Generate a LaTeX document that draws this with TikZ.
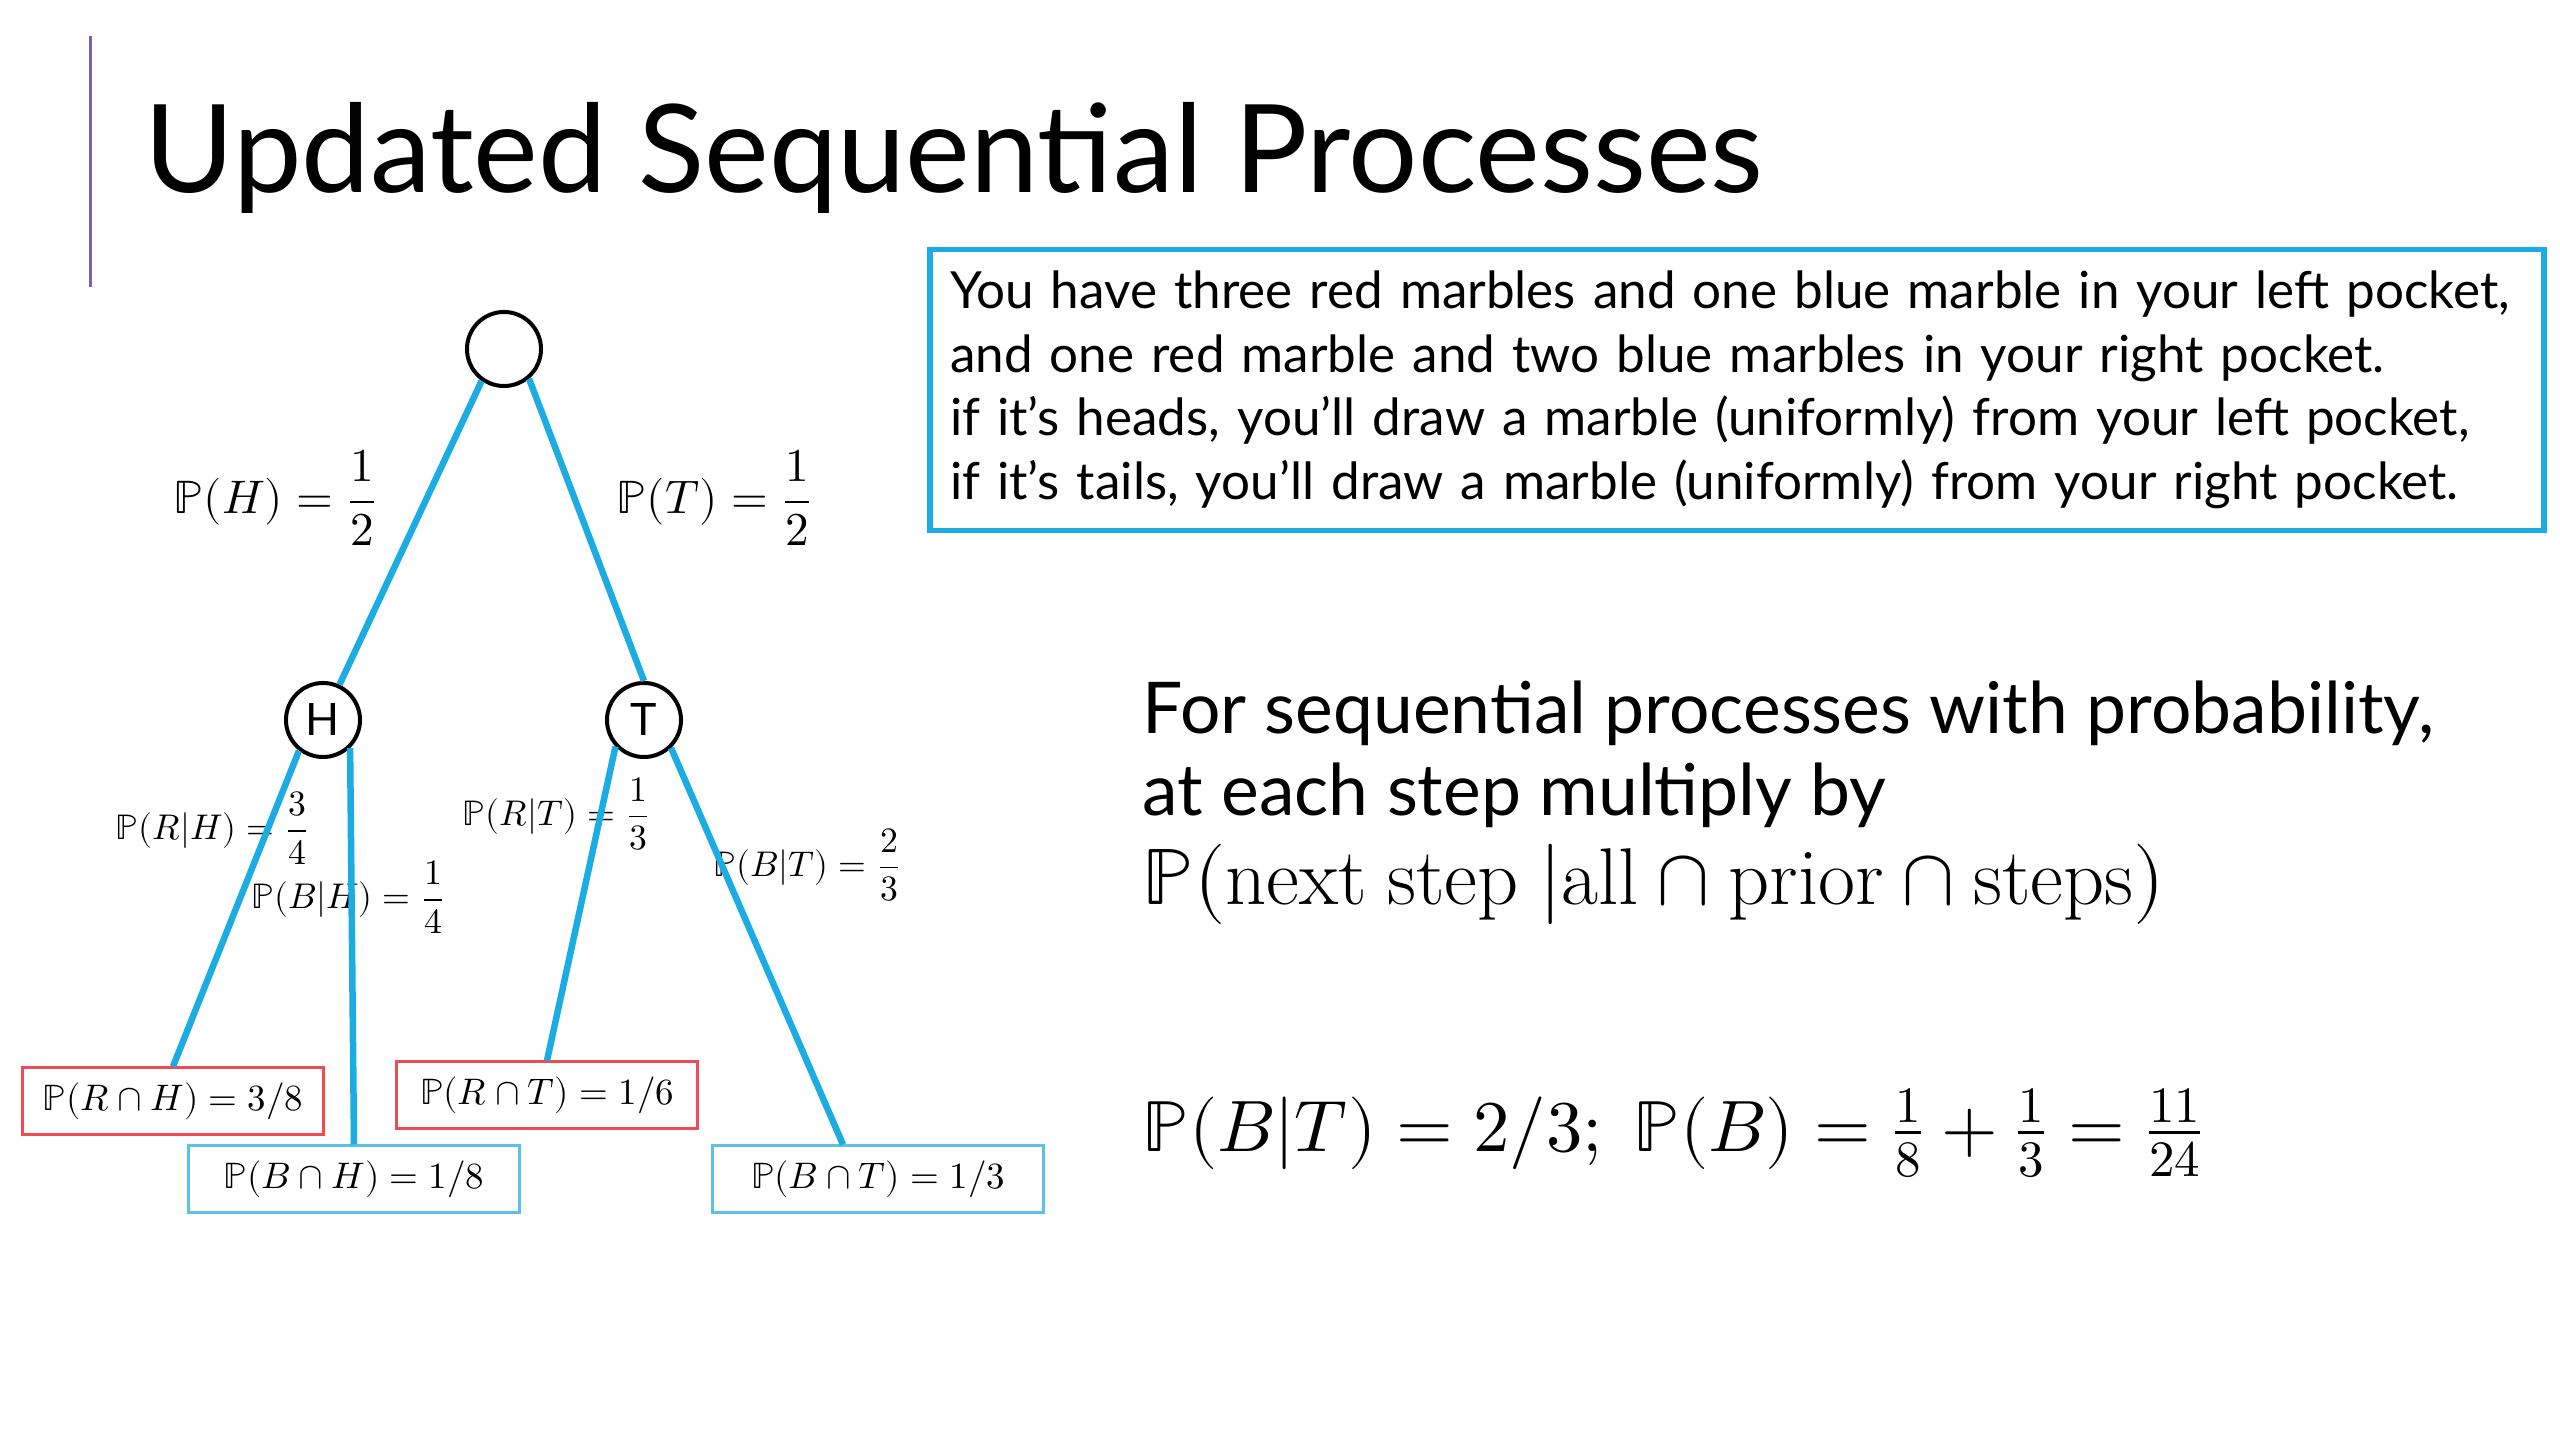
\documentclass[tikz,border=0pt]{standalone}
\usepackage{amsmath}
\usepackage{unicode-math}
\setsansfont{Lato}
\renewcommand{\familydefault}{\sfdefault}
\usepackage{tikz}
\definecolor{ionblue}{HTML}{1AACE3}
\definecolor{boxred}{HTML}{EE4B55}
\definecolor{boxblue}{HTML}{5BC0EB}
\definecolor{barpurple}{HTML}{7B62B0}

\begin{document}
\begin{tikzpicture}[x=0.01cm,y=-0.01cm,
    coin/.style={draw,circle,line width=0.04cm,minimum size=0.74cm,inner sep=0pt,font=\fontsize{12.7}{14}\selectfont},
    branch/.style={ionblue,line width=0.065cm},
    redbox/.style={draw=boxred,line width=0.03cm,minimum width=3cm,minimum height=0.66cm,font=\fontsize{10.5}{13}\selectfont},
    bluebox/.style={draw=boxblue,line width=0.03cm,minimum width=3.3cm,minimum height=0.66cm,font=\fontsize{10.5}{13}\selectfont},
    prob/.style={anchor=west,inner sep=0pt,font=\fontsize{13.4}{15}\selectfont},
    condprob/.style={anchor=west,inner sep=0pt,font=\fontsize{10.15}{12}\selectfont}]
  \useasboundingbox (0,0) rectangle (2560,1440);
  \draw[barpurple,line width=0.03cm] (90,36) -- (90,287);
  \node[anchor=base west,inner sep=0pt,font=\fontsize{34.8}{40}\selectfont] (title) at (144,193) {Updated Sequential Processes};

  % coin toss tree
  \node[coin] (root) at (504,349) {};
  \node[coin] (H) at (323,720) {H};
  \node[coin] (T) at (644,720) {T};
  \node[redbox] (rh) at (173,1101) {$\mathbb{P}(R\cap H)=3/8$};
  \node[bluebox] (bh) at (354,1179) {$\mathbb{P}(B\cap H)=1/8$};
  \node[redbox] (rt) at (547,1095) {$\mathbb{P}(R\cap T)=1/6$};
  \node[bluebox] (bt) at (878,1179) {$\mathbb{P}(B\cap T)=1/3$};
  \node[prob] (lh) at (173,498) {$\displaystyle\mathbb{P}(H)=\frac{1}{2}$};
  \node[prob] (lt) at (616,498) {$\displaystyle\mathbb{P}(T)=\frac{1}{2}$};
  \node[condprob] (lrh) at (115,828) {$\displaystyle\mathbb{P}(R|H)=\frac{3}{4}$};
  \node[condprob] (lbh) at (251,897) {$\displaystyle\mathbb{P}(B|H)=\frac{1}{4}$};
  \node[condprob] (lrt) at (462,814) {$\displaystyle\mathbb{P}(R|T)=\frac{1}{3}$};
  \node[condprob] (lbt) at (713,865) {$\displaystyle\mathbb{P}(B|T)=\frac{2}{3}$};
  \draw[branch] (root.-125) -- (H.65);
  \draw[branch] (root.-50) -- (T.north);
  \draw[branch] (H.-128) -- (rh.north);
  \draw[branch] (H.-46) -- (bh.north);
  \draw[branch] (T.-137) -- (rt.north);
  \draw[branch] (T.-46) -- ([xshift=-0.35cm]bt.north);

  % setup and rule
  \node[draw=ionblue,line width=0.055cm,minimum width=16.13cm,minimum height=2.81cm,text width=15.73cm,inner xsep=0.2cm,align=left,font=\fontsize{14.55}{18.07}\selectfont] (setup) at (1737,390) {You have three red marbles and one blue marble in your left pocket,\\
    and one red marble and two blue marbles in your right pocket.\\
    if it’s heads, you’ll draw a marble (uniformly) from your left pocket,\\
    if it’s tails, you’ll draw a marble (uniformly) from your right pocket.};
  \node[anchor=base west,inner sep=0pt,font=\fontsize{20.3}{23}\selectfont] (rule1) at (1142,734) {For sequential processes with probability,};
  \node[anchor=base west,inner sep=0pt,font=\fontsize{20.3}{23}\selectfont] (rule2) at (1142,816) {at each step multiply by};
  \node[anchor=base west,inner sep=0pt,font=\fontsize{22.9}{26}\selectfont] (rule3) at (1142,904) {$\mathbb{P}(\mathrm{next\ step}\ |\mathrm{all}\cap\mathrm{prior}\cap\mathrm{steps})$};
  \node[anchor=base west,inner sep=0pt,font=\fontsize{20.7}{25}\selectfont] (total) at (1142,1151) {$\mathbb{P}(B|T)=2/3;\ \mathbb{P}(B)=\frac{1}{8}+\frac{1}{3}=\frac{11}{24}$};
\end{tikzpicture}
\end{document}
